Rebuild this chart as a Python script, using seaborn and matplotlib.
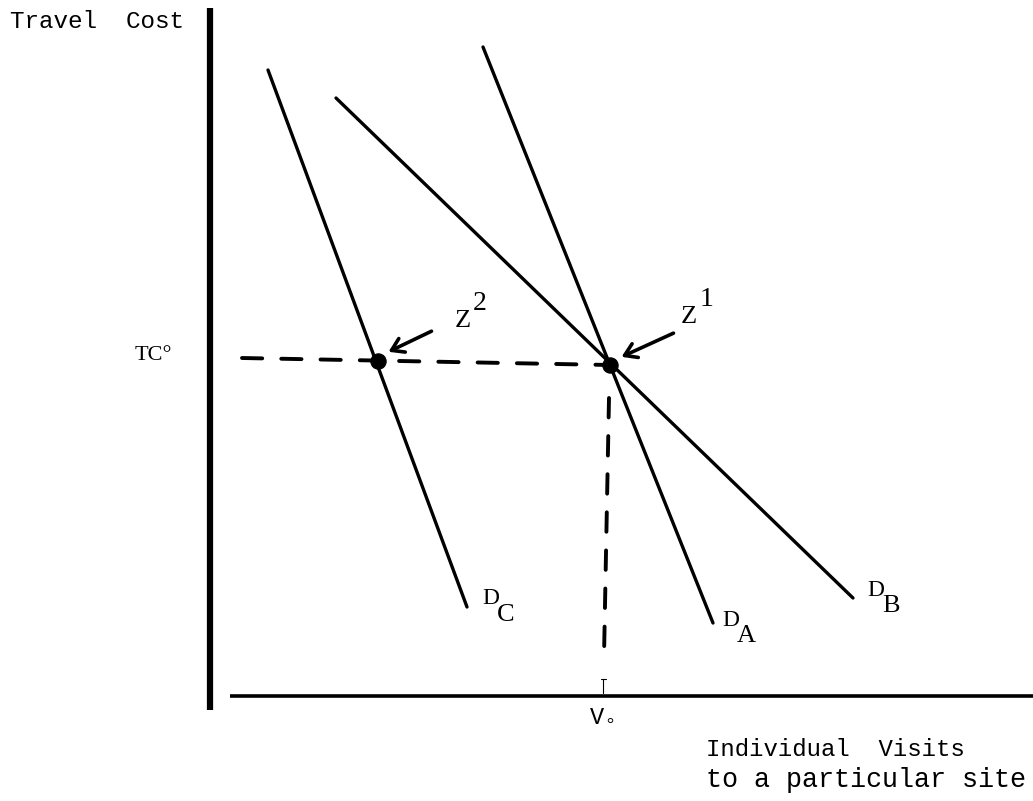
import matplotlib
matplotlib.use("Agg")
import matplotlib.pyplot as plt
import seaborn as sns
import pandas as pd

sns.set_theme(style="white")
plt.rcParams['font.family'] = ['Liberation Mono', 'Noto Sans CJK SC', 'DejaVu Sans']

# Drawing coordinates (canvas units, y grows downward)
curve_names = ["D_C", "D_B", "D_A"]
curve_x = [[268, 467], [336, 853], [483, 713]]
curve_y = [[70, 607], [98, 598], [47, 623]]

eq_names = ["Z2", "Z1"]
eq_x = [378, 610]
eq_y = [361, 365]

tc_line_x = [242, 610]
tc_line_y = [358, 365]
v_line_x = [609, 604]
v_line_y = [398, 657]

fig = plt.figure(figsize=(10.33, 8.01), dpi=100)
ax = fig.add_axes([0, 0, 1, 1])
ax.set_xlim(0, 1033)
ax.set_ylim(801, 0)
ax.axis("off")

rows = []
for n, xs, ys in zip(curve_names, curve_x, curve_y):
    for x, y in zip(xs, ys):
        rows.append({"curve": n, "x": x, "y": y})
df = pd.DataFrame(rows)
sns.lineplot(data=df, x="x", y="y", units="curve", estimator=None, color="black",
             linewidth=2.4, ax=ax, sort=False, legend=False)

# axes
ax.plot([210, 210], [8, 710], color="black", linewidth=4.5, solid_capstyle="butt")
ax.plot([230, 1033], [696, 696], color="black", linewidth=2.6, solid_capstyle="butt")

# dashed guides
ax.plot(tc_line_x, tc_line_y, color="black", linewidth=2.8, dashes=(5.2, 4.9), dash_capstyle="round")
ax.plot(v_line_x, v_line_y, color="black", linewidth=2.8, dashes=(5.0, 4.8), dash_capstyle="round")
ax.plot([603, 603], [679, 693], color="black", linewidth=0.8)
ax.plot([600.5, 605.5], [679, 679], color="black", linewidth=0.8)

sns.scatterplot(x=eq_x, y=eq_y, color="black", s=120, ax=ax, zorder=5, edgecolor="black")

# arrows
ax.annotate("", xy=(386, 353), xytext=(434, 330),
            arrowprops=dict(arrowstyle="->,head_length=0.7,head_width=0.45", color="black", lw=2.6))
ax.annotate("", xy=(619, 358), xytext=(676, 332),
            arrowprops=dict(arrowstyle="->,head_length=0.7,head_width=0.45", color="black", lw=2.6))

mono = dict(family=["Liberation Mono", "Noto Sans CJK SC", "DejaVu Sans"], color="black")
serif = dict(family=["Liberation Serif", "DejaVu Serif"], color="black")

ax.text(10, 21, "Travel  Cost", fontsize=17.5, va="center", ha="left", **mono)
ax.text(135, 356, "TC°", fontsize=16, va="center", ha="left", **serif)
ax.text(706, 749, "Individual  Visits", fontsize=17.3, va="center", ha="left", **mono)
ax.text(706, 780, "to a particular site", fontsize=19.3, va="center", ha="left", **mono)
ax.text(590, 717, "V", fontsize=17, va="center", ha="left", **mono)
ax.text(606, 717, "。", fontsize=13, va="center", ha="left",
        family=["Noto Sans CJK SC", "DejaVu Sans"], color="black")

ax.text(455, 321, "Z", fontsize=19, va="center", ha="left", **serif)
ax.text(473, 303, "2", fontsize=20, va="center", ha="left", **serif)
ax.text(681, 317, "Z", fontsize=19, va="center", ha="left", **serif)
ax.text(700, 299, "1", fontsize=20, va="center", ha="left", **serif)

ax.text(482, 598, "D", fontsize=17, va="center", ha="left", **serif)
ax.text(497, 615, "C", fontsize=19, va="center", ha="left", **serif)
ax.text(722, 620, "D", fontsize=17, va="center", ha="left", **serif)
ax.text(737, 636, "A", fontsize=19, va="center", ha="left", **serif)
ax.text(867, 590, "D", fontsize=17, va="center", ha="left", **serif)
ax.text(882, 606, "B", fontsize=19, va="center", ha="left", **serif)

fig.savefig("out.png", dpi=100)
